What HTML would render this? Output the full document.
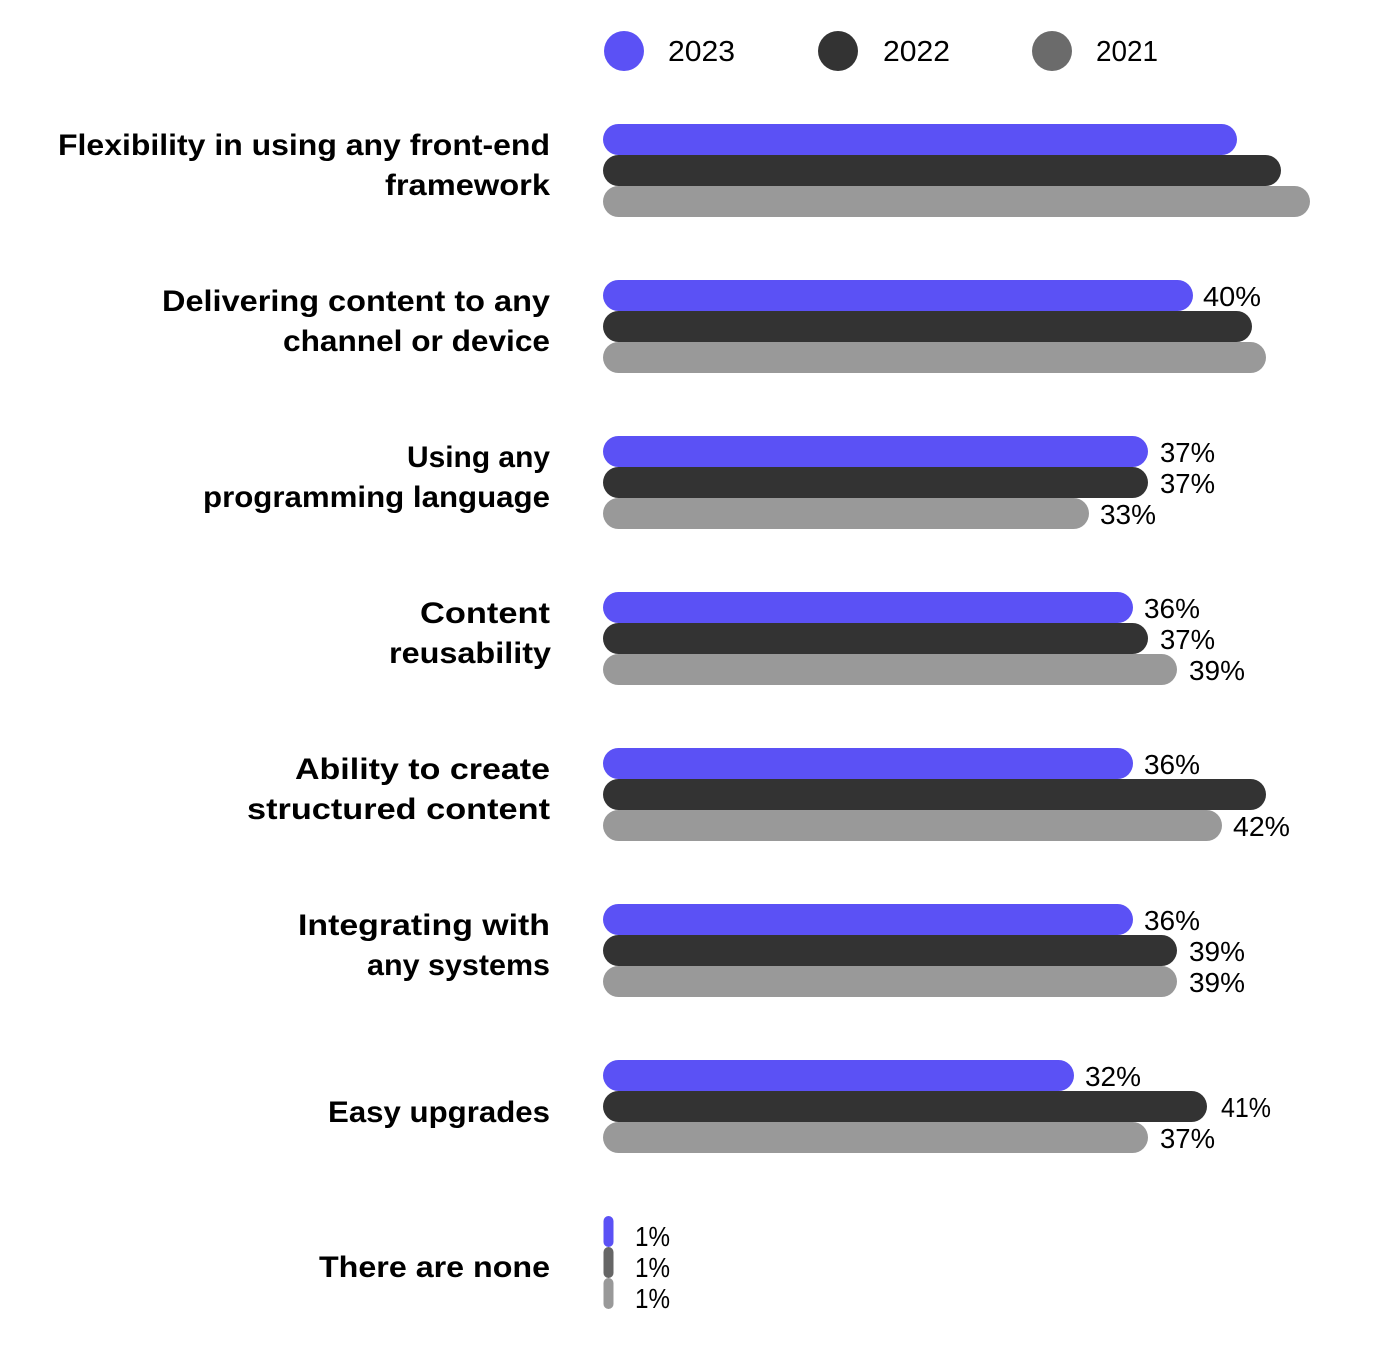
<!DOCTYPE html>
<html>
<head>
<meta charset="utf-8">
<style>
html,body{margin:0;padding:0;background:#fff;}
svg{display:block;}
.lab{font-family:"Liberation Sans",Arial,sans-serif;font-weight:bold;font-size:30px;fill:#000;}
.pct{font-family:"Liberation Sans",Arial,sans-serif;font-size:28px;fill:#000;}
.leg{font-family:"Liberation Sans",Arial,sans-serif;font-size:29px;fill:#000;}
</style>
</head>
<body>
<svg width="1390" height="1345" viewBox="0 0 1390 1345" xmlns="http://www.w3.org/2000/svg">
<rect width="1390" height="1345" fill="#fff"/>
<!-- Legend -->
<circle cx="624" cy="51" r="20" fill="#5b51f5"/>
<text class="leg" x="668" y="61" textLength="67" lengthAdjust="spacingAndGlyphs">2023</text>
<circle cx="838" cy="51" r="20" fill="#333333"/>
<text class="leg" x="883" y="61" textLength="67" lengthAdjust="spacingAndGlyphs">2022</text>
<circle cx="1052" cy="51" r="20" fill="#6b6b6b"/>
<text class="leg" x="1096" y="61" textLength="62" lengthAdjust="spacingAndGlyphs">2021</text>

<!-- Group 1 -->
<rect x="603" y="124" width="634" height="31" rx="15.5" fill="#5b51f5"/>
<rect x="603" y="155" width="678" height="31" rx="15.5" fill="#333333"/>
<rect x="603" y="186" width="707" height="31" rx="15.5" fill="#999999"/>
<text class="lab" x="550" y="155" text-anchor="end" textLength="492" lengthAdjust="spacingAndGlyphs">Flexibility in using any front-end</text>
<text class="lab" x="550" y="195" text-anchor="end" textLength="165" lengthAdjust="spacingAndGlyphs">framework</text>

<!-- Group 2 -->
<rect x="603" y="280" width="590" height="31" rx="15.5" fill="#5b51f5"/>
<rect x="603" y="311" width="649" height="31" rx="15.5" fill="#333333"/>
<rect x="603" y="342" width="663" height="31" rx="15.5" fill="#999999"/>
<text class="pct" x="1203" y="306" textLength="58" lengthAdjust="spacingAndGlyphs">40%</text>
<text class="lab" x="550" y="311" text-anchor="end" textLength="388" lengthAdjust="spacingAndGlyphs">Delivering content to any</text>
<text class="lab" x="550" y="351" text-anchor="end" textLength="267" lengthAdjust="spacingAndGlyphs">channel or device</text>

<!-- Group 3 -->
<rect x="603" y="436" width="545" height="31" rx="15.5" fill="#5b51f5"/>
<rect x="603" y="467" width="545" height="31" rx="15.5" fill="#333333"/>
<rect x="603" y="498" width="486" height="31" rx="15.5" fill="#999999"/>
<text class="pct" x="1160" y="462" textLength="55" lengthAdjust="spacingAndGlyphs">37%</text>
<text class="pct" x="1160" y="493" textLength="55" lengthAdjust="spacingAndGlyphs">37%</text>
<text class="pct" x="1100" y="524" textLength="56" lengthAdjust="spacingAndGlyphs">33%</text>
<text class="lab" x="550" y="467" text-anchor="end" textLength="143" lengthAdjust="spacingAndGlyphs">Using any</text>
<text class="lab" x="550" y="507" text-anchor="end" textLength="347" lengthAdjust="spacingAndGlyphs">programming language</text>

<!-- Group 4 -->
<rect x="603" y="592" width="530" height="31" rx="15.5" fill="#5b51f5"/>
<rect x="603" y="623" width="545" height="31" rx="15.5" fill="#333333"/>
<rect x="603" y="654" width="574" height="31" rx="15.5" fill="#999999"/>
<text class="pct" x="1144" y="618" textLength="56" lengthAdjust="spacingAndGlyphs">36%</text>
<text class="pct" x="1160" y="649" textLength="55" lengthAdjust="spacingAndGlyphs">37%</text>
<text class="pct" x="1189" y="680" textLength="56" lengthAdjust="spacingAndGlyphs">39%</text>
<text class="lab" x="550" y="623" text-anchor="end" textLength="130" lengthAdjust="spacingAndGlyphs">Content</text>
<text class="lab" x="551" y="663" text-anchor="end" textLength="162" lengthAdjust="spacingAndGlyphs">reusability</text>

<!-- Group 5 -->
<rect x="603" y="748" width="530" height="31" rx="15.5" fill="#5b51f5"/>
<rect x="603" y="779" width="663" height="31" rx="15.5" fill="#333333"/>
<rect x="603" y="810" width="619" height="31" rx="15.5" fill="#999999"/>
<text class="pct" x="1144" y="774" textLength="56" lengthAdjust="spacingAndGlyphs">36%</text>
<text class="pct" x="1233" y="836" textLength="57" lengthAdjust="spacingAndGlyphs">42%</text>
<text class="lab" x="550" y="779" text-anchor="end" textLength="255" lengthAdjust="spacingAndGlyphs">Ability to create</text>
<text class="lab" x="550" y="819" text-anchor="end" textLength="303" lengthAdjust="spacingAndGlyphs">structured content</text>

<!-- Group 6 -->
<rect x="603" y="904" width="530" height="31" rx="15.5" fill="#5b51f5"/>
<rect x="603" y="935" width="574" height="31" rx="15.5" fill="#333333"/>
<rect x="603" y="966" width="574" height="31" rx="15.5" fill="#999999"/>
<text class="pct" x="1144" y="930" textLength="56" lengthAdjust="spacingAndGlyphs">36%</text>
<text class="pct" x="1189" y="961" textLength="56" lengthAdjust="spacingAndGlyphs">39%</text>
<text class="pct" x="1189" y="992" textLength="56" lengthAdjust="spacingAndGlyphs">39%</text>
<text class="lab" x="550" y="935" text-anchor="end" textLength="252" lengthAdjust="spacingAndGlyphs">Integrating with</text>
<text class="lab" x="550" y="975" text-anchor="end" textLength="183" lengthAdjust="spacingAndGlyphs">any systems</text>

<!-- Group 7 -->
<rect x="603" y="1060" width="471" height="31" rx="15.5" fill="#5b51f5"/>
<rect x="603" y="1091" width="604" height="31" rx="15.5" fill="#333333"/>
<rect x="603" y="1122" width="545" height="31" rx="15.5" fill="#999999"/>
<text class="pct" x="1085" y="1086" textLength="56" lengthAdjust="spacingAndGlyphs">32%</text>
<text class="pct" x="1221" y="1117" textLength="50" lengthAdjust="spacingAndGlyphs">41%</text>
<text class="pct" x="1160" y="1148" textLength="55" lengthAdjust="spacingAndGlyphs">37%</text>
<text class="lab" x="550" y="1122" text-anchor="end" textLength="222" lengthAdjust="spacingAndGlyphs">Easy upgrades</text>

<!-- Group 8 -->
<rect x="603.5" y="1216" width="10" height="31" rx="5" fill="#5b51f5"/>
<rect x="603.5" y="1247" width="10" height="31" rx="5" fill="#666666"/>
<rect x="603.5" y="1278" width="10" height="31" rx="5" fill="#999999"/>
<text class="pct" x="635" y="1246" textLength="35" lengthAdjust="spacingAndGlyphs">1%</text>
<text class="pct" x="635" y="1277" textLength="35" lengthAdjust="spacingAndGlyphs">1%</text>
<text class="pct" x="635" y="1308" textLength="35" lengthAdjust="spacingAndGlyphs">1%</text>
<text class="lab" x="550" y="1277" text-anchor="end" textLength="231" lengthAdjust="spacingAndGlyphs">There are none</text>
</svg>
</body>
</html>
